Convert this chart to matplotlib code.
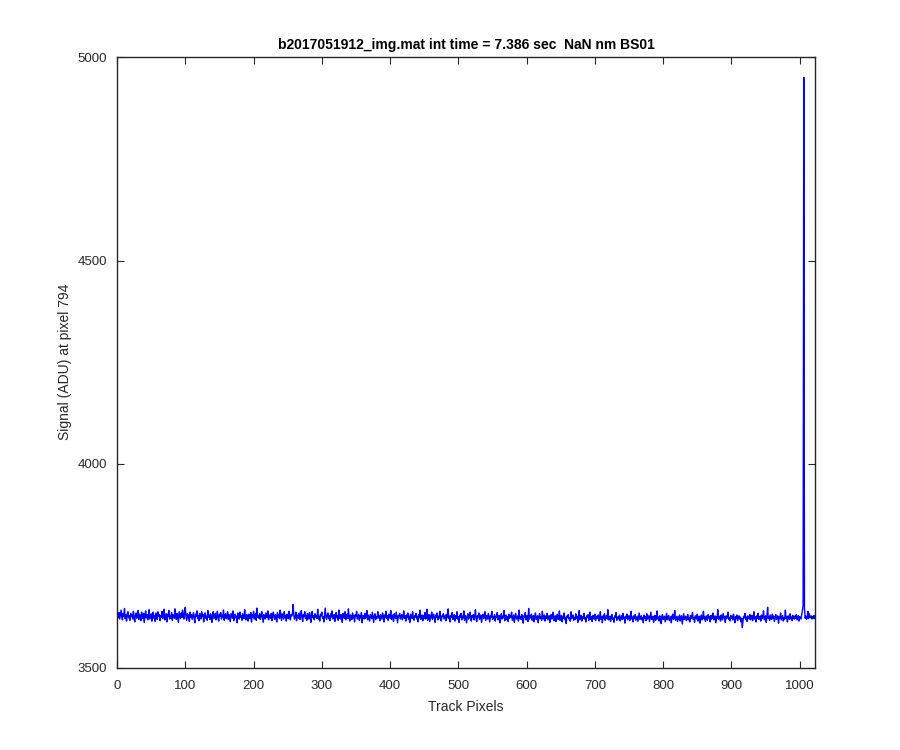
import matplotlib
matplotlib.use('Agg')
import matplotlib.pyplot as plt
import numpy as np

plt.rcParams['font.family'] = ['Liberation Sans', 'DejaVu Sans']

# signal, one value per track pixel
signal = [
    3628, 3622, 3635, 3619, 3630, 3641, 3624, 3617, 3633, 3626, 3645, 3620, 3629, 3614, 3631, 3637,
    3622, 3627, 3616, 3633, 3625, 3630, 3619, 3638, 3623, 3612, 3629, 3634, 3621, 3626, 3640, 3618,
    3631, 3624, 3615, 3636, 3627, 3620, 3633, 3611, 3628, 3639, 3622, 3630, 3617, 3626, 3642, 3619,
    3625, 3632, 3614, 3629, 3636, 3621, 3627, 3613, 3634, 3624, 3618, 3637, 3626, 3630, 3615, 3628,
    3623, 3638, 3620, 3629, 3643, 3617, 3626, 3632, 3612, 3631, 3625, 3640, 3619, 3628, 3622, 3635,
    3616, 3630, 3627, 3621, 3644, 3624, 3618, 3633, 3626, 3611, 3637, 3629, 3620, 3634, 3623, 3641,
    3627, 3619, 3638, 3648, 3625, 3616, 3632, 3622, 3629, 3613, 3636, 3624, 3630, 3618, 3627, 3635,
    3621, 3610, 3631, 3626, 3639, 3620, 3628, 3615, 3633, 3624, 3619, 3637, 3625, 3630, 3612, 3628,
    3634, 3621, 3626, 3616, 3640, 3623, 3629, 3618, 3632, 3625, 3611, 3630, 3637, 3620, 3627, 3633,
    3617, 3624, 3638, 3622, 3614, 3631, 3626, 3635, 3619, 3628, 3623, 3641, 3616, 3629, 3632, 3620,
    3625, 3637, 3618, 3630, 3624, 3613, 3633, 3627, 3621, 3639, 3615, 3628, 3631, 3622, 3626, 3610,
    3634, 3629, 3619, 3636, 3623, 3627, 3616, 3632, 3625, 3620, 3642, 3624, 3617, 3630, 3628, 3614,
    3631, 3626, 3620, 3635, 3612, 3629, 3624, 3638, 3619, 3627, 3633, 3616, 3646, 3623, 3628, 3621,
    3632, 3618, 3626, 3637, 3624, 3611, 3630, 3625, 3619, 3634, 3627, 3622, 3639, 3617, 3629, 3626,
    3621, 3633, 3615, 3628, 3636, 3623, 3618, 3630, 3626, 3612, 3635, 3624, 3629, 3620, 3641, 3627,
    3616, 3632, 3625, 3619, 3637, 3622, 3628, 3614, 3631, 3626, 3620, 3638, 3624, 3617, 3630, 3627,
    3633, 3655, 3628, 3619, 3624, 3636, 3615, 3629, 3626, 3621, 3634, 3618, 3627, 3640, 3622, 3613,
    3630, 3625, 3637, 3620, 3628, 3616, 3633, 3624, 3619, 3635, 3626, 3611, 3629, 3638, 3622, 3627,
    3617, 3632, 3624, 3628, 3620, 3643, 3619, 3626, 3614, 3631, 3627, 3636, 3621, 3625, 3612, 3630,
    3646, 3623, 3618, 3629, 3634, 3620, 3627, 3615, 3632, 3624, 3639, 3619, 3626, 3630, 3613, 3628,
    3635, 3622, 3627, 3616, 3641, 3624, 3619, 3630, 3625, 3611, 3633, 3628, 3621, 3637, 3617, 3626,
    3631, 3620, 3644, 3623, 3614, 3629, 3626, 3618, 3634, 3622, 3627, 3612, 3630, 3625, 3638, 3619,
    3624, 3631, 3616, 3627, 3622, 3635, 3610, 3628, 3625, 3619, 3633, 3621, 3626, 3640, 3617, 3629,
    3623, 3614, 3630, 3626, 3620, 3636, 3624, 3611, 3628, 3632, 3618, 3625, 3621, 3637, 3622, 3627,
    3615, 3630, 3624, 3619, 3634, 3626, 3612, 3629, 3622, 3638, 3620, 3627, 3616, 3631, 3625, 3621,
    3640, 3618, 3626, 3629, 3613, 3632, 3624, 3620, 3636, 3623, 3610, 3628, 3625, 3633, 3619, 3626,
    3630, 3617, 3624, 3639, 3621, 3627, 3614, 3629, 3623, 3634, 3618, 3626, 3611, 3631, 3625, 3620,
    3637, 3622, 3616, 3628, 3624, 3633, 3619, 3626, 3612, 3630, 3622, 3641, 3618, 3625, 3629, 3615,
    3627, 3621, 3635, 3619, 3624, 3643, 3616, 3626, 3630, 3613, 3628, 3622, 3636, 3618, 3625, 3631,
    3620, 3611, 3629, 3624, 3634, 3617, 3626, 3621, 3638, 3623, 3614, 3627, 3625, 3632, 3619, 3624,
    3629, 3615, 3631, 3622, 3644, 3620, 3626, 3612, 3628, 3624, 3635, 3618, 3623, 3630, 3614, 3627,
    3621, 3637, 3619, 3625, 3611, 3629, 3624, 3633, 3617, 3626, 3622, 3639, 3616, 3628, 3623, 3610,
    3626, 3632, 3619, 3624, 3636, 3621, 3614, 3628, 3623, 3630, 3617, 3625, 3642, 3620, 3613, 3627,
    3624, 3634, 3618, 3622, 3629, 3611, 3626, 3631, 3620, 3625, 3637, 3616, 3623, 3628, 3619, 3633,
    3622, 3612, 3627, 3624, 3638, 3618, 3625, 3620, 3630, 3614, 3626, 3623, 3635, 3617, 3621, 3628,
    3610, 3624, 3632, 3619, 3626, 3622, 3640, 3615, 3623, 3629, 3618, 3625, 3613, 3631, 3621, 3627,
    3624, 3636, 3616, 3622, 3629, 3611, 3626, 3633, 3619, 3623, 3627, 3614, 3641, 3620, 3625, 3618,
    3630, 3622, 3609, 3627, 3624, 3635, 3617, 3621, 3628, 3613, 3645, 3619, 3626, 3622, 3631, 3616,
    3623, 3628, 3612, 3626, 3634, 3618, 3621, 3627, 3610, 3625, 3632, 3620, 3624, 3616, 3638, 3622,
    3619, 3629, 3614, 3626, 3621, 3633, 3617, 3623, 3628, 3611, 3625, 3630, 3619, 3624, 3636, 3615,
    3622, 3627, 3613, 3625, 3631, 3618, 3620, 3639, 3616, 3624, 3628, 3612, 3626, 3621, 3634, 3617,
    3623, 3608, 3627, 3624, 3630, 3619, 3622, 3614, 3637, 3620, 3625, 3629, 3616, 3623, 3618, 3632,
    3621, 3626, 3611, 3624, 3640, 3617, 3622, 3628, 3614, 3625, 3620, 3633, 3619, 3623, 3612, 3627,
    3624, 3630, 3616, 3621, 3636, 3618, 3625, 3613, 3628, 3622, 3619, 3631, 3615, 3624, 3626, 3620,
    3629, 3614, 3622, 3637, 3618, 3624, 3610, 3627, 3621, 3632, 3616, 3623, 3628, 3619, 3642, 3617,
    3622, 3626, 3613, 3624, 3630, 3618, 3621, 3611, 3627, 3623, 3635, 3616, 3620, 3625, 3619, 3629,
    3614, 3622, 3627, 3618, 3633, 3620, 3624, 3609, 3626, 3621, 3631, 3617, 3623, 3628, 3615, 3622,
    3638, 3619, 3624, 3612, 3627, 3620, 3630, 3616, 3621, 3626, 3613, 3624, 3634, 3618, 3622, 3627,
    3617, 3623, 3610, 3629, 3621, 3625, 3615, 3632, 3619, 3622, 3627, 3613, 3624, 3636, 3618, 3620,
    3626, 3611, 3623, 3628, 3616, 3621, 3639, 3619, 3624, 3614, 3627, 3622, 3608, 3625, 3630, 3618,
    3621, 3626, 3612, 3623, 3633, 3617, 3622, 3628, 3615, 3620, 3625, 3610, 3627, 3631, 3618, 3623,
    3640, 3616, 3621, 3626, 3613, 3624, 3619, 3629, 3614, 3622, 3627, 3607, 3620, 3632, 3618, 3623,
    3626, 3615, 3621, 3630, 3617, 3623, 3612, 3628, 3620, 3625, 3635, 3618, 3622, 3611, 3627, 3624,
    3619, 3631, 3614, 3621, 3626, 3609, 3623, 3629, 3617, 3622, 3638, 3619, 3624, 3613, 3627, 3621,
    3616, 3630, 3622, 3625, 3612, 3628, 3619, 3623, 3634, 3617, 3621, 3627, 3610, 3624, 3620, 3642,
    3618, 3623, 3626, 3614, 3629, 3621, 3617, 3632, 3622, 3625, 3611, 3627, 3620, 3624, 3636, 3618,
    3623, 3614, 3628, 3621, 3626, 3617, 3631, 3622, 3610, 3625, 3620, 3629, 3615, 3623, 3627, 3619,
    3624, 3612, 3621, 3598, 3616, 3626, 3622, 3633, 3618, 3624, 3613, 3627, 3621, 3619, 3630, 3617,
    3624, 3628, 3615, 3622, 3637, 3619, 3625, 3612, 3627, 3621, 3633, 3618, 3623, 3626, 3614, 3629,
    3620, 3624, 3639, 3617, 3622, 3627, 3611, 3625, 3648, 3620, 3624, 3616, 3629, 3622, 3618, 3631,
    3621, 3626, 3613, 3624, 3630, 3618, 3622, 3627, 3609, 3625, 3620, 3634, 3617, 3623, 3628, 3614,
    3622, 3619, 3641, 3621, 3625, 3612, 3627, 3623, 3618, 3632, 3620, 3624, 3615, 3628, 3622, 3619,
    3626, 3621, 3630, 3617, 3623, 3628, 3614, 3625, 3622, 3619, 3631, 3640, 3652, 4950, 3645, 3621,
    3626, 3618, 3623, 3638, 3620, 3632, 3624, 3622, 3627, 3619, 3625, 3621, 3628, 3620, 3624, 3622,
]

title = 'b2017051912_img.mat int time = 7.386 sec  NaN nm BS01'
xlabel = 'Track Pixels'
ylabel = 'Signal (ADU) at pixel 794'
xticks = [0, 100, 200, 300, 400, 500, 600, 700, 800, 900, 1000]
yticks = [3500, 4000, 4500, 5000]

axcol = '#262626'

fig = plt.figure(figsize=(9, 7.5), dpi=100)
ax = fig.add_axes([0.13, 0.11, 0.776, 0.814])

x = np.arange(1, len(signal) + 1)
ax.plot(x, signal, color='#0000ff', linewidth=1.0)

ax.set_xlim(0, 1023)
ax.set_ylim(3500, 5000)
ax.set_xticks(xticks)
ax.set_yticks(yticks)

ax.tick_params(direction='in', length=5, width=0.8, colors=axcol,
               labelsize=9.5, top=True, right=True)
ax.tick_params(axis='x', pad=9)
ax.tick_params(axis='y', pad=7)
for s in ax.spines.values():
    s.set_color(axcol)
    s.set_linewidth(1.0)

ax.set_title(title, fontsize=10, fontweight='bold', color='black', pad=6)
ax.set_xlabel(xlabel, fontsize=10, color=axcol, labelpad=6)
ax.set_ylabel(ylabel, fontsize=10, color=axcol, labelpad=4)

fig.savefig('out.png', dpi=100, facecolor='white')
